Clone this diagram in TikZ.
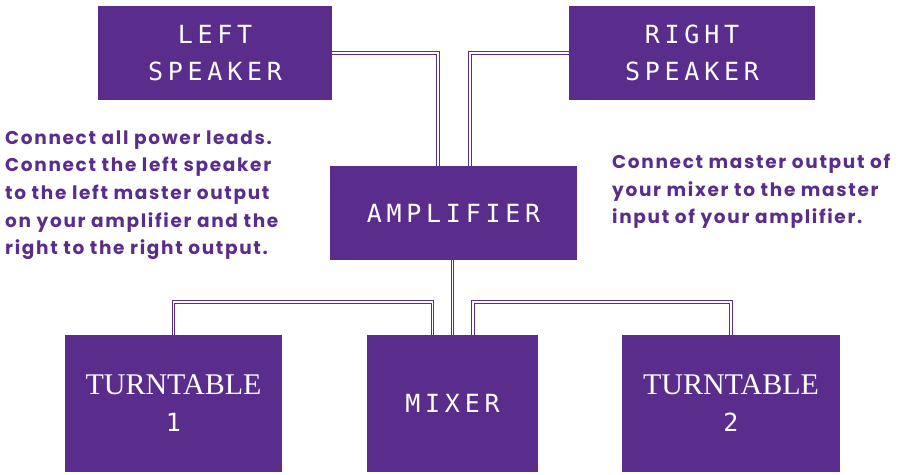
\documentclass[tikz,border=0pt]{standalone}
\usepackage{fontspec}
\setmainfont{Poppins}[LetterSpace=9]
\newfontfamily\boxfont{DejaVu Sans Mono}[LetterSpace=19]
\newfontfamily\ttserif{Liberation Serif}
\definecolor{dj}{HTML}{5A2D8C}
\tikzset{
  box/.style={fill=dj, draw=none, text=white, align=center, inner sep=0pt,
    font=\boxfont\fontsize{25}{37}\selectfont},
  wire/.style={draw=dj, line width=1.1pt, double=white, double distance=1.6pt},
  note/.style={text=dj, align=left, inner sep=0pt, anchor=north west,
    font=\bfseries\fontsize{18.5}{27.6}\selectfont}
}
\begin{document}
\begin{tikzpicture}[x=1pt,y=-1pt]
\useasboundingbox (0,0) rectangle (901,474);
\node[box, minimum width=234pt, minimum height=94pt] (lsp) at (215,53) {LEFT\\SPEAKER};
\node[box, minimum width=246pt, minimum height=94pt] (rsp) at (692,53) {RIGHT\\SPEAKER};
\node[box, minimum width=247pt, minimum height=94pt] (amp) at (453.5,213) {AMPLIFIER};
\node[box, minimum width=171pt, minimum height=137pt] (mix) at (452.5,403.5) {MIXER};
\node[box, minimum width=217pt, minimum height=137pt] (tt1) at (173.5,403.5) {{\ttserif\fontsize{30}{38}\selectfont TURNTABLE}\\1};
\node[box, minimum width=218pt, minimum height=137pt] (tt2) at (731,403.5) {{\ttserif\fontsize{30}{38}\selectfont TURNTABLE}\\2};
\node[note] (n1) at (5,130.5) {Connect all power leads.\\Connect the left speaker\\to the left master output\\on your amplifier and the\\right to the right output.};
\node[note] (n2) at (612,154) {Connect master output of\\your mixer to the master\\input of your amplifier.};
\draw[wire] (lsp.east) -| ([xshift=-15.5pt]amp.north);
\draw[wire] (rsp.west) -| ([xshift=16.5pt]amp.north);
\draw[wire] (amp.south -| mix.north) -- (mix.north);
\draw[wire] (tt1.north) -- ++(0,-33) -| ([xshift=-20pt]mix.north);
\draw[wire] (tt2.north) -- ++(0,-33) -| ([xshift=20.5pt]mix.north);
\end{tikzpicture}
\end{document}
